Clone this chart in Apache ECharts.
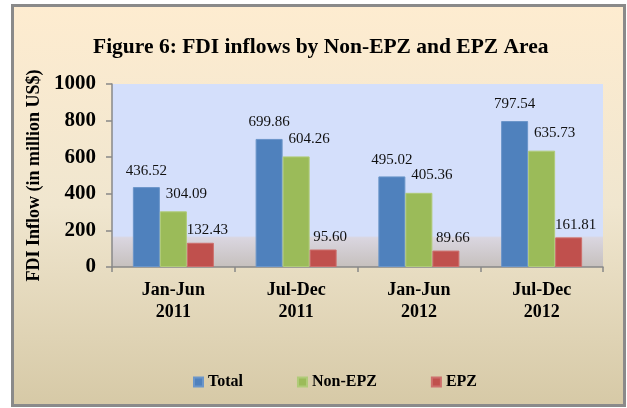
<!doctype html>
<html>
<head>
<meta charset="utf-8">
<title>FDI inflows by Non-EPZ and EPZ Area</title>
<script src="https://cdn.jsdelivr.net/npm/echarts@6/dist/echarts.min.js"></script>
<style>
  html, body { margin: 0; padding: 0; background: #fff; }
  #main { width: 627px; height: 408px; }
</style>
</head>
<body>
<div id="main"></div>
<script type="text/javascript">
// data
var periods = ['Jan-Jun\n2011', 'Jul-Dec\n2011', 'Jan-Jun\n2012', 'Jul-Dec\n2012'];
var total = [436.52, 699.86, 495.02, 797.54];
var nonEpz = [304.09, 604.26, 405.36, 635.73];
var epz = [132.43, 95.60, 89.66, 161.81];
var yTicks = [0, 200, 400, 600, 800, 1000];

var serif = '"Liberation Serif", "Times New Roman", serif';
var myChart = echarts.init(document.getElementById('main'));

function barLabel(offset) {
    return {
        show: true,
        position: 'top',
        distance: 9,
        offset: offset,
        fontFamily: serif,
        fontSize: 15,
        color: '#111',
        formatter: function (p) { return p.value.toFixed(2); }
    };
}

var option = {
    backgroundColor: '#fff',
    animation: false,
    graphic: [{
        type: 'rect',
        z: -10,
        silent: true,
        shape: { x: 12.5, y: 5.5, width: 612, height: 400 },
        style: {
            fill: new echarts.graphic.LinearGradient(0, 0, 0, 1, [
                { offset: 0, color: '#feecd0' },
                { offset: 0.5, color: '#f0e6cf' },
                { offset: 1, color: '#d6c9a6' }
            ]),
            stroke: '#8a8a8a',
            lineWidth: 3
        }
    }],
    title: {
        text: 'Figure 6: FDI inflows by Non-EPZ and EPZ Area',
        left: 88,
        top: 31,
        textStyle: { fontFamily: serif, fontWeight: 'bold', fontSize: 21.5, color: '#000' }
    },
    legend: {
        data: ['Total', 'Non-EPZ', 'EPZ'],
        left: 188,
        top: 369,
        itemWidth: 9,
        itemHeight: 9,
        itemGap: 54,
        icon: 'rect',
        textStyle: { fontFamily: serif, fontWeight: 'bold', fontSize: 16, color: '#000' }
    },
    grid: {
        left: 112,
        right: 24,
        top: 84,
        bottom: 141,
        show: true,
        borderWidth: 0,
        backgroundColor: new echarts.graphic.LinearGradient(0, 0, 0, 1, [
            { offset: 0, color: '#d4dffb' },
            { offset: 0.83, color: '#d4dffb' },
            { offset: 0.84, color: '#dad6e0' },
            { offset: 1, color: '#c6c0bd' }
        ])
    },
    xAxis: {
        type: 'category',
        data: periods,
        axisLine: { lineStyle: { color: '#888', width: 1.5 } },
        axisTick: { show: true, length: 5, lineStyle: { color: '#888', width: 1.5 } },
        axisLabel: {
            margin: 12,
            fontFamily: serif,
            fontWeight: 'bold',
            fontSize: 18,
            lineHeight: 22,
            color: '#000'
        }
    },
    yAxis: {
        type: 'value',
        min: 0,
        max: 1000,
        interval: 200,
        name: 'FDI Inflow (in million US$)',
        nameLocation: 'middle',
        nameGap: 64,
        nameTextStyle: { fontFamily: serif, fontWeight: 'bold', fontSize: 18, color: '#000' },
        splitLine: { show: false },
        axisLine: { show: true, lineStyle: { color: '#888', width: 1.5 } },
        axisTick: { show: true, length: 6, lineStyle: { color: '#888', width: 1.5 } },
        axisLabel: {
            margin: 16,
            fontFamily: serif,
            fontWeight: 'bold',
            fontSize: 21,
            color: '#000',
            customValues: yTicks,
            formatter: function (v) { return String(v); }
        }
    },
    series: [
        {
            name: 'Total',
            type: 'bar',
            data: total,
            barGap: '0%',
            barCategoryGap: '34%',
            itemStyle: { color: '#4f81bd', borderColor: '#6a95c9', borderWidth: 1 },
            label: barLabel([0, 0])
        },
        {
            name: 'Non-EPZ',
            type: 'bar',
            data: nonEpz,
            itemStyle: { color: '#9bbb59', borderColor: '#b0cb78', borderWidth: 1 },
            label: barLabel([13, -1])
        },
        {
            name: 'EPZ',
            type: 'bar',
            data: epz,
            itemStyle: { color: '#c0504d', borderColor: '#cd6f6c', borderWidth: 1 },
            label: barLabel([7, 4])
        }
    ]
};

myChart.setOption(option);
</script>
</body>
</html>
